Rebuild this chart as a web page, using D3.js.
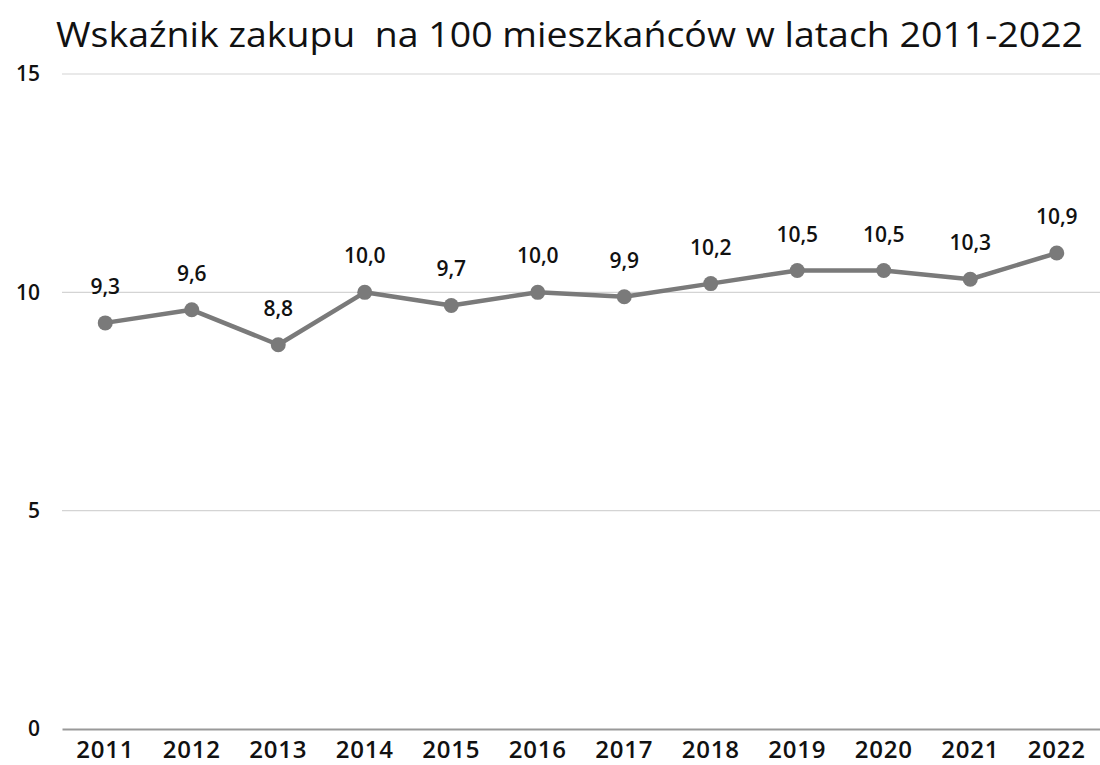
<!DOCTYPE html>
<html>
<head>
<meta charset="utf-8">
<script src="https://cdn.jsdelivr.net/npm/d3@7"></script>
<style>
  html, body { margin: 0; padding: 0; background: #fff; }
  svg { display: block; }
</style>
</head>
<body>
<svg id="chart" width="1100" height="765"></svg>
<script>
const title = "Wskaźnik zakupu  na 100 mieszkańców w latach 2011-2022";
const years = ["2011","2012","2013","2014","2015","2016","2017","2018","2019","2020","2021","2022"];
const values = [9.3, 9.6, 8.8, 10.0, 9.7, 10.0, 9.9, 10.2, 10.5, 10.5, 10.3, 10.9];
const yTicks = [0, 5, 10, 15];

const svg = d3.select("#chart");
const W = 1100, H = 765;
const margin = { left: 62, right: 0, top: 74, bottom: 36 };

const x = d3.scaleBand().domain(years).range([margin.left, W - margin.right]).paddingInner(0).paddingOuter(0);
const y = d3.scaleLinear().domain([0, 15]).range([H - margin.bottom, margin.top]);

const fmt = v => v.toFixed(1).replace(".", ",");

// Title
svg.append("text")
  .attr("x", 56).attr("y", 47)
  .attr("textLength", 1027).attr("lengthAdjust", "spacingAndGlyphs")
  .style("white-space", "pre")
  .style("font-family", "'Open Sans', 'Noto Sans', sans-serif")
  .style("font-size", "35px").style("fill", "#111")
  .text(title);

// Gridlines
svg.append("g")
  .selectAll("line").data(yTicks.filter(t => t !== 0)).join("line")
  .attr("x1", margin.left).attr("x2", W - margin.right)
  .attr("y1", d => y(d)).attr("y2", d => y(d))
  .attr("stroke", "#d4d4d4").attr("stroke-width", 1.2);

// Y axis labels
const yAxis = d3.axisLeft(y).tickValues(yTicks).tickSize(0).tickPadding(0).tickFormat(d3.format("d"));
const gy = svg.append("g").attr("transform", `translate(${margin.left - 22},0)`).call(yAxis);
gy.select(".domain").remove();
gy.selectAll("text")
  .style("font-family", "'Open Sans', sans-serif").style("font-weight", "600")
  .style("font-size", "21px").style("fill", "#111");

// X axis
const xAxis = d3.axisBottom(x).tickSize(0).tickPadding(12);
const gx = svg.append("g").attr("transform", `translate(0,${y(0)})`).call(xAxis);
gx.select(".domain").attr("stroke", "#999").attr("stroke-width", 2);
gx.selectAll("text")
  .style("font-family", "'Open Sans', sans-serif").style("font-weight", "600")
  .style("font-size", "24px").style("letter-spacing", "0.8px").style("fill", "#111");

const cx = d => x(d) + x.bandwidth() / 2;

// Line
const line = d3.line().x((d, i) => cx(years[i])).y(d => y(d));
svg.append("path").datum(values)
  .attr("d", line).attr("fill", "none")
  .attr("stroke", "#7a7a7a").attr("stroke-width", 4.5).attr("stroke-linejoin", "round");

// Points
svg.append("g").selectAll("circle").data(values).join("circle")
  .attr("cx", (d, i) => cx(years[i])).attr("cy", d => y(d))
  .attr("r", 7.5).attr("fill", "#7a7a7a");

// Labels
svg.append("g").selectAll("text").data(values).join("text")
  .attr("x", (d, i) => cx(years[i])).attr("y", d => y(d) - 29)
  .attr("text-anchor", "middle")
  .style("font-family", "'Open Sans', sans-serif").style("font-weight", "600")
  .style("font-size", "21px").style("fill", "#111")
  .text(d => fmt(d));
</script>
</body>
</html>
